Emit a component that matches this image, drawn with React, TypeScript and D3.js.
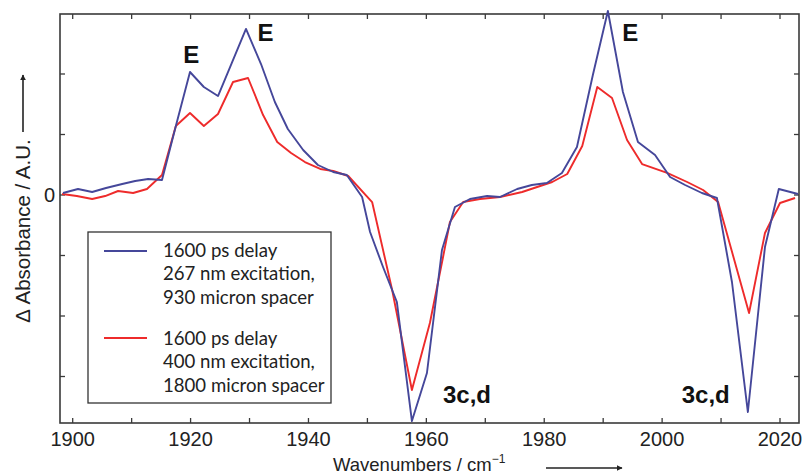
import React from 'react';
import * as d3 from 'd3';

// wavenumber (cm^-1) / delta absorbance (a.u.)
const blueX = [1898.35, 1900.9, 1903.3, 1905.65, 1908.4, 1910.6, 1912.8, 1915.15, 1917.5, 1919.9, 1922.25, 1924.65, 1927.0, 1929.4, 1931.95, 1934.3, 1936.5, 1939.1, 1941.6, 1944.2, 1946.5, 1949.1, 1950.45, 1952.65, 1955.0, 1957.55, 1960.1, 1962.65, 1964.85, 1967.4, 1970.3, 1972.5, 1975.4, 1977.9, 1980.45, 1983.0, 1985.55, 1988.25, 1990.8, 1993.35, 1995.9, 1998.8, 2001.35, 2003.9, 2006.75, 2009.3, 2011.85, 2014.55, 2017.45, 2019.8, 2023.05];
const blueY = [0.033, 0.099, 0.05, 0.116, 0.182, 0.231, 0.264, 0.248, 1.14, 2.033, 1.785, 1.636, 2.182, 2.744, 2.165, 1.537, 1.091, 0.744, 0.496, 0.38, 0.331, -0.033, -0.612, -1.19, -1.769, -3.736, -2.942, -0.909, -0.198, -0.066, -0.017, -0.033, 0.099, 0.165, 0.198, 0.364, 0.793, 1.983, 3.041, 1.702, 0.876, 0.661, 0.298, 0.165, 0.033, -0.05, -1.438, -3.587, -0.86, 0.099, 0.017];

const redX = [1898.2, 1900.7, 1903.3, 1905.5, 1907.7, 1910.25, 1912.6, 1915.15, 1917.5, 1919.9, 1922.25, 1924.65, 1927.2, 1929.75, 1932.3, 1934.7, 1937.05, 1939.4, 1942.0, 1944.2, 1946.75, 1950.8, 1954.2, 1957.55, 1960.6, 1962.8, 1964.0, 1966.25, 1969.1, 1972.5, 1976.25, 1978.8, 1981.35, 1983.9, 1986.45, 1989.0, 1991.5, 1994.05, 1996.6, 2000.85, 2004.25, 2006.95, 2009.5, 2014.75, 2017.45, 2020.0, 2022.55];
const redY = [0.017, -0.017, -0.066, -0.017, 0.066, 0.033, 0.099, 0.331, 1.14, 1.355, 1.14, 1.339, 1.868, 1.934, 1.322, 0.876, 0.694, 0.545, 0.43, 0.397, 0.314, -0.116, -1.57, -3.223, -2.116, -1.041, -0.446, -0.116, -0.066, -0.033, 0.05, 0.132, 0.215, 0.347, 0.81, 1.785, 1.603, 0.909, 0.512, 0.364, 0.215, 0.083, -0.116, -1.95, -0.628, -0.132, -0.05];

const xTicks = [1900, 1910, 1920, 1930, 1940, 1950, 1960, 1970, 1980, 1990, 2000, 2010, 2020];
const xLabels = [1900, 1920, 1940, 1960, 1980, 2000, 2020];
const yTicks = [-3, -2, -1, 0, 1, 2];
const yLabels = [0];

const legendItems = [
  { color: '#45479a', lines: ['1600 ps delay', '267 nm excitation,', '930 micron spacer'] },
  { color: '#ee2b2b', lines: ['1600 ps delay', '400 nm excitation,', '1800 micron spacer'] },
];

const peakLabels = [
  { x: 1920.1, y: 2.18, text: 'E' },
  { x: 1932.7, y: 2.545, text: 'E' },
  { x: 1994.6, y: 2.545, text: 'E' },
  { x: 1966.9, y: -3.44, text: '3c,d' },
  { x: 2007.4, y: -3.44, text: '3c,d' },
];

const W = 803;
const H = 474;
const L = 60, R = 799, T = 14, B = 423;

export default function App() {
  const x = d3.scaleLinear().domain([1900, 2020]).range([72.7, 780]);
  const y = d3.scaleLinear().domain([0, 1]).range([195, 134.5]);

  const line = d3.line<[number, number]>().x(d => x(d[0])).y(d => y(d[1]));
  const blue = blueX.map((v, i) => [v, blueY[i]] as [number, number]);
  const red = redX.map((v, i) => [v, redY[i]] as [number, number]);

  const axisCol = '#3a3a3a';
  const helv = '"Liberation Sans", Arial, sans-serif';
  const tl = 5;

  return (
    <svg width={W} height={H} style={{ position: 'absolute', left: 0, top: 0, background: '#fff' }}>
      <defs>
        <marker id="ah" viewBox="0 0 10 10" refX="9" refY="5" markerWidth="6" markerHeight="6" markerUnits="userSpaceOnUse" orient="auto">
          <path d="M0,0 L10,5 L0,10 z" fill="#222" />
        </marker>
      </defs>

      {/* ticks, inward on all four sides */}
      <g stroke={axisCol} strokeWidth={1.3}>
        {xTicks.map(t => (
          <g key={'x' + t}>
            <line x1={x(t)} x2={x(t)} y1={B} y2={B - tl} />
            <line x1={x(t)} x2={x(t)} y1={T} y2={T + tl} />
          </g>
        ))}
        {yTicks.map(t => (
          <g key={'y' + t}>
            <line x1={L} x2={L + tl} y1={y(t)} y2={y(t)} />
            <line x1={R} x2={R - tl} y1={y(t)} y2={y(t)} />
          </g>
        ))}
      </g>
      <rect x={L} y={T} width={R - L} height={B - T} fill="none" stroke={axisCol} strokeWidth={1.6} />

      {/* tick labels */}
      <g fontFamily={helv} fontSize={20} fill="#222">
        {xLabels.map(t => (
          <text key={t} x={x(t)} y={446} textAnchor="middle">{t}</text>
        ))}
        {yLabels.map(t => (
          <text key={t} x={55} y={y(t) + 7} textAnchor="end">{t}</text>
        ))}
      </g>

      {/* legend */}
      <rect x={88} y={232} width={243} height={171} fill="#fff" stroke="#333" strokeWidth={1.3} />
      {legendItems.map((it, i) => (
        <g key={i}>
          <line x1={104} x2={147} y1={251 + i * 87} y2={251 + i * 87} stroke={it.color} strokeWidth={2} />
          {it.lines.map((s, j) => (
            <text key={j} x={163} y={257 + i * 88 + j * 23.3} fontFamily='Lato, sans-serif' fontSize={18.6} fill="#222">{s}</text>
          ))}
        </g>
      ))}

      {/* series */}
      <path d={line(red) || ''} fill="none" stroke="#ee2b2b" strokeWidth={1.9} strokeLinejoin="round" />
      <path d={line(blue) || ''} fill="none" stroke="#45479a" strokeWidth={1.9} strokeLinejoin="round" />

      {/* band labels */}
      <g fontFamily={helv} fontWeight="bold" fontSize={24} fill="#111">
        {peakLabels.map((p, i) => (
          <text key={i} x={x(p.x)} y={y(p.y)} textAnchor="middle">{p.text}</text>
        ))}
      </g>

      {/* x axis title */}
      <text x={333} y={471} fontFamily={helv} fontSize={18.5} fill="#222">
        Wavenumbers / cm<tspan dy={-8} fontSize={12}>−1</tspan>
      </text>
      <line x1={546} x2={622} y1={468} y2={468} stroke="#222" strokeWidth={1.6} markerEnd="url(#ah)" />

      {/* y axis title */}
      <text transform="translate(30,231) rotate(-90)" textAnchor="middle" fontFamily={helv} fontSize={20.5} fill="#222">
        Δ Absorbance / A.U.
      </text>
      <line x1={23} x2={23} y1={132} y2={75} stroke="#222" strokeWidth={1.6} markerEnd="url(#ah)" />
    </svg>
  );
}
